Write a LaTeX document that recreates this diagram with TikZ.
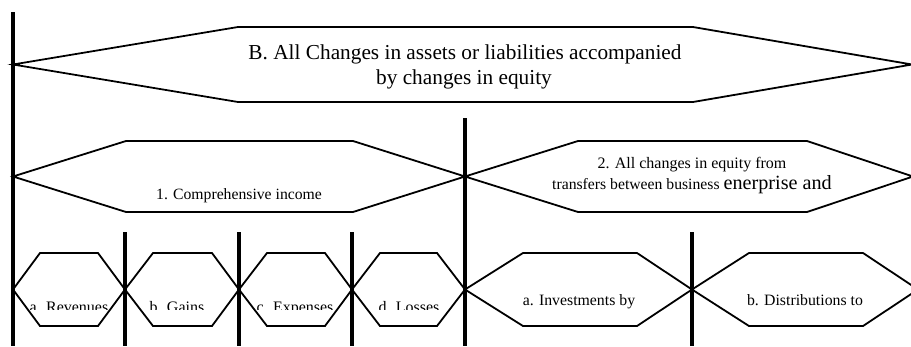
\documentclass[tikz,border=0pt]{standalone}
\usepackage{fontspec}
\setmainfont{Liberation Serif}
\tikzset{
  hexline/.style={line width=1.8pt, line join=miter},
  divider/.style={line width=3.2pt},
  lbl/.style={inner sep=0pt, anchor=base, text=black},
}
\newcommand{\hexa}[6]{% left tip x, corner1 x, corner2 x, right tip x, top y, bottom y
  \draw[hexline] (#1,{(#5+#6)/2}) -- (#2,#5) -- (#3,#5) -- (#4,{(#5+#6)/2}) -- (#3,#6) -- (#2,#6) -- cycle;}
\begin{document}
\begin{tikzpicture}[x=1pt,y=-1pt]
\useasboundingbox (0,0) rectangle (911,346);
\clip (0,0) rectangle (911,346);
% top hexagon
\hexa{13}{238}{693}{912}{27}{102}
% middle hexagons
\hexa{13}{126}{353}{465}{141}{212}
\hexa{465}{578}{807}{913}{141}{212}
% bottom hexagons
\hexa{13}{40}{98}{125}{253}{326}
\hexa{125}{153}{212}{239}{253}{326}
\hexa{239}{267}{325}{352}{253}{326}
\hexa{352}{380}{437}{465}{253}{326}
\hexa{465}{523}{637}{692}{253}{326}
\hexa{692}{749}{863}{918}{253}{326}
% dividers
\coordinate (d0t) at (13,12);   \coordinate (d0b) at (13,346);
\coordinate (d1t) at (465,118); \coordinate (d1b) at (465,346);
\coordinate (d2t) at (125,232); \coordinate (d2b) at (125,346);
\coordinate (d3t) at (239,232); \coordinate (d3b) at (239,346);
\coordinate (d4t) at (352,232); \coordinate (d4b) at (352,346);
\coordinate (d5t) at (692,232); \coordinate (d5b) at (692,346);
\foreach \i in {0,...,5} {\draw[divider] (d\i t) -- (d\i b);}
% texts
\node[lbl, font=\fontsize{21.3}{25}\selectfont] (tB1) at (465,59) {B. All Changes in assets or liabilities accompanied};
\node[lbl, font=\fontsize{21.3}{25}\selectfont] (tB2) at (464,84) {by changes in equity};
\node[lbl, font=\fontsize{15.7}{18}\selectfont] (t1) at (239,199) {1. Comprehensive income};
\node[lbl, font=\fontsize{16}{19}\selectfont] (t2a) at (692,168) {2. All changes in equity from};
\node[lbl, font=\fontsize{15.7}{18}\selectfont] (t2b) at (692,189) {transfers between business {\fontsize{20.2}{24}\selectfont enerprise and}};
\node[lbl, font=\fontsize{15.8}{18}\selectfont] (ta2) at (579,305) {a. Investments by};
\node[lbl, font=\fontsize{15.8}{18}\selectfont] (tb2) at (805,305) {b. Distributions to};
\begin{scope}
\clip (0,0) rectangle (911,309.5);
\node[lbl, font=\fontsize{16}{19}\selectfont] (ta) at (69,312) {a. Revenues};
\node[lbl, font=\fontsize{16}{19}\selectfont] (tb) at (177,312) {b. Gains};
\node[lbl, font=\fontsize{16}{19}\selectfont] (tc) at (295,312) {c. Expenses};
\node[lbl, font=\fontsize{16}{19}\selectfont] (td) at (409,312) {d. Losses};
\end{scope}
\end{tikzpicture}
\end{document}
